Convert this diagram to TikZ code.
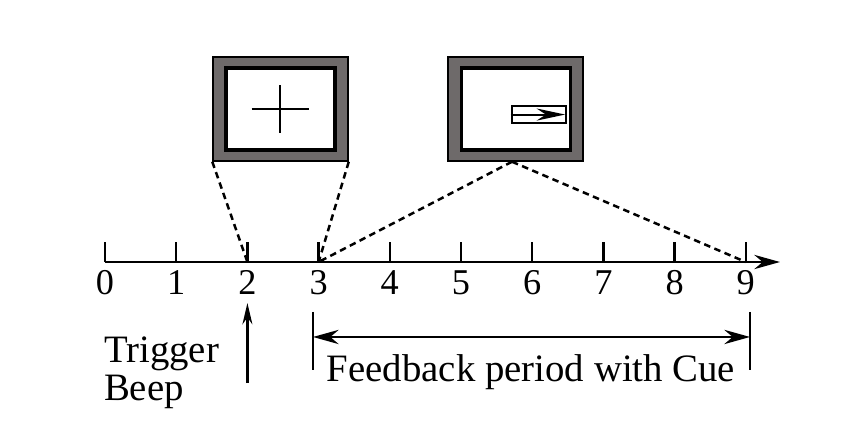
\documentclass[tikz,border=0pt]{standalone}
\usepackage{fontspec}
\setmainfont{Liberation Serif}
\usepackage{xcolor}
\usepackage{tikz}
\usetikzlibrary{arrows.meta,positioning}
\definecolor{framegray}{RGB}{110,106,106}

\begin{document}
\begin{tikzpicture}[>={Stealth[length=0.36cm,width=0.2cm]},line width=0.9pt,
		screen/.style={draw=black,line width=0.6pt,fill=framegray,minimum width=1.896cm,minimum height=1.46cm,inner sep=0pt},
		display/.style={draw=black,line width=1.4pt,fill=white,minimum width=1.531cm,minimum height=1.152cm,inner sep=0pt},
		cuebox/.style={draw=black,line width=1pt,fill=white,minimum width=0.759cm,minimum height=0.239cm,inner sep=0pt},
		link/.style={dashed,dash pattern=on 2.6pt off 1.8pt,line width=1pt},
		ticklabel/.style={anchor=base,font=\fontsize{14.5}{16}\selectfont,inner sep=0pt},
		caption/.style={anchor=base,font=\fontsize{15.5}{17}\selectfont,inner sep=0pt}]
		\useasboundingbox (-1.475,-2.360) rectangle (10.632,3.680);

		% screens
		\node[screen] (fix) at (2.465,2.149) {};
		\node[display] (fixin) at (2.465,2.149) {};
		\node[screen] (cue) at (5.766,2.149) {};
		\node[display] (cuein) at (5.772,2.149) {};
		\node[cuebox] (cuearrow) at (6.095,2.071) {};
		\draw (2.058,2.145) -- (2.862,2.145);
		\draw (2.458,2.485) -- (2.458,1.808);
		\draw[-{Stealth[length=0.4cm,width=0.17cm]},line width=0.8pt] (cuearrow.west) -- ([xshift=-0.03cm]cuearrow.east);

		% time axis
		\foreach \i in {0,...,9} {
			\coordinate (t\i) at (\i,0);
			\draw (t\i) -- ++(0,0.28);
			\node[ticklabel] (n\i) at (\i,-0.463) {\i};
		}
		\coordinate (axisend) at (9.48,0);
		\draw[->,line width=1pt] (t0) -- (axisend);

		% zoom lines
		\draw[link] (fix.south west) -- (t2);
		\draw[link] (fix.south east) -- (t3);
		\draw[link] ([xshift=-0.05cm]cue.south) -- (t3);
		\draw[link] ([xshift=-0.05cm]cue.south) -- (t9);

		% trigger
		\coordinate (trigbot) at (2,-1.70);
		\coordinate (trigtop) at (2,-0.576);
		\draw[->,>={Stealth[length=0.3cm,width=0.14cm]}] (trigbot) -- (trigtop);
		\node[caption,anchor=base west] (trig) at (-0.03,-1.415) {Trigger};
		\node[caption,anchor=base west] (beep) at (-0.03,-1.945) {Beep};

		% feedback period
		\coordinate (fbL) at (2.921,-1.053);
		\coordinate (fbR) at (9.059,-1.053);
		\draw (2.921,-0.702) -- (2.921,-1.517);
		\draw (9.059,-0.702) -- (9.059,-1.517);
		\draw[<->] (fbL) -- (fbR);
		\node[caption] (fbtext) at (5.983,-1.685) {Feedback period with Cue};
	\end{tikzpicture}
\end{document}
